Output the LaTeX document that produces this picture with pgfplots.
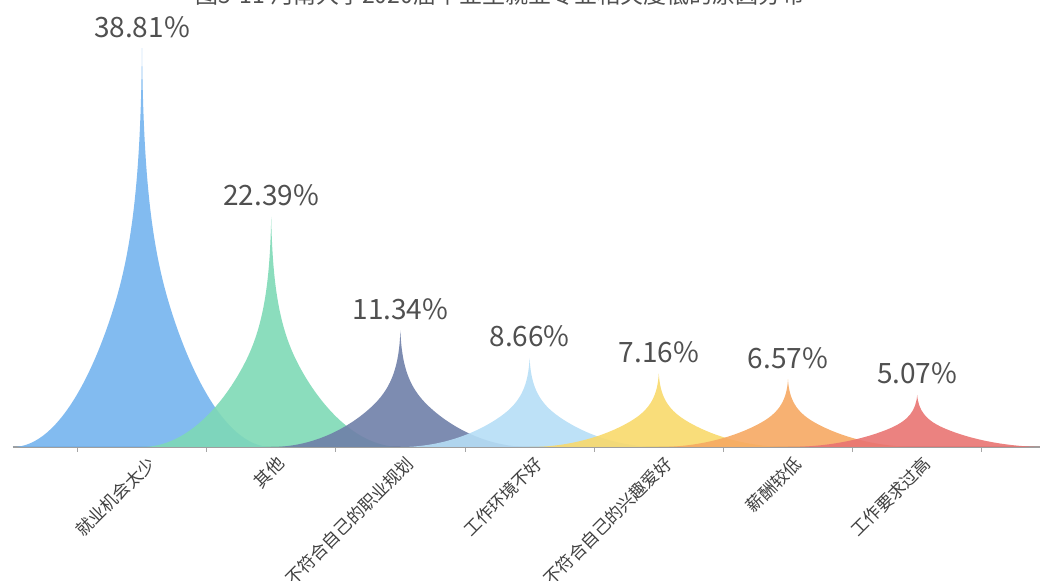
\documentclass[border=0pt]{standalone}
\usepackage{pgfplots}
\usepackage{pgfplotstable}
\pgfplotsset{compat=1.18}
\usepackage{fontspec}
\setmainfont{Noto Sans CJK SC}
\definecolor{c1}{HTML}{74B4EE}
\definecolor{c2}{HTML}{7ED9B6}
\definecolor{c3}{HTML}{6F7FA8}
\definecolor{c4}{HTML}{B6DEF6}
\definecolor{c5}{HTML}{F8D96C}
\definecolor{c6}{HTML}{F6A963}
\definecolor{c7}{HTML}{E97472}
\definecolor{lab}{HTML}{505050}
\newdimen\spikeunit \spikeunit=5.14pt
\newdimen\spikew \spikew=64.6pt
\newdimen\spikeH
\def\spikeval{0}
\pgfdeclareplotmark{spike}{%
  \spikeH=\spikeval\spikeunit
  \pgfpathmoveto{\pgfpointorigin}%
  \pgfpathcurveto{\pgfqpoint{0.01\spikew}{-0.3\spikeH}}{\pgfqpoint{0.065\spikew}{-0.48\spikeH}}{\pgfqpoint{0.2\spikew}{-0.63\spikeH}}%
  \pgfpathcurveto{\pgfqpoint{0.335\spikew}{-0.78\spikeH}}{\pgfqpoint{0.62\spikew}{-\spikeH}}{\pgfqpoint{\spikew}{-\spikeH}}%
  \pgfpathlineto{\pgfqpoint{-\spikew}{-\spikeH}}%
  \pgfpathcurveto{\pgfqpoint{-0.62\spikew}{-\spikeH}}{\pgfqpoint{-0.335\spikew}{-0.78\spikeH}}{\pgfqpoint{-0.2\spikew}{-0.63\spikeH}}%
  \pgfpathcurveto{\pgfqpoint{-0.065\spikew}{-0.48\spikeH}}{\pgfqpoint{-0.01\spikew}{-0.3\spikeH}}{\pgfpointorigin}%
  \pgfpathclose
  \pgfusepathqfill
}
\pgfplotstableread{
x y c
0 38.81 a
1 22.39 b
2 11.34 c
3 8.66 d
4 7.16 e
5 6.57 f
6 5.07 g
}\spikes
\begin{document}
\begin{tikzpicture}
\useasboundingbox (-6.4pt,-67pt) rectangle (513.6pt,223.5pt);
\begin{axis}[
  x=64.6pt, y=5.14pt,
  xmin=-1, xmax=6.95, ymin=0, ymax=42,
  clip=false,
  axis x line=bottom, axis y line=none,
  x axis line style={-, draw=gray!75, line width=0.9pt},
  xtick={0,...,6},
  xticklabels={就业机会太少,其他,不符合自己的职业规划,工作环境不好,不符合自己的兴趣爱好,薪酬较低,工作要求过高},
  major tick length=0pt,
  minor xtick={-0.5,0.5,...,6.5},
  minor tick length=2.5pt,
  tick align=outside,
  minor tick style={gray!70, line width=0.5pt},
  xticklabel style={rotate=45, anchor=north east, font=\fontsize{8.6}{9}\selectfont, text=lab!80!black, inner sep=1pt, yshift=-3pt},
  point meta min=0, point meta max=40,
]
\addplot[scatter, only marks, mark=spike, fill opacity=0.9,
  scatter src=explicit symbolic,
  scatter/classes={a={fill=c1,draw=none},b={fill=c2,draw=none},c={fill=c3,draw=none},d={fill=c4,draw=none},e={fill=c5,draw=none},f={fill=c6,draw=none},g={fill=c7,draw=none}},
  visualization depends on={rawy \as \spikeval}]
  table[x=x, y=y, meta=c]{\spikes};
\addplot[draw=none, mark=none,
  visualization depends on={rawy \as \labval},
  nodes near coords={\pgfmathprintnumber[fixed,fixed zerofill,precision=2,assume math mode=true]{\labval}\%},
  every node near coord/.style={anchor=base, yshift=5.5pt, inner sep=0pt, font=\fontsize{14}{16}\selectfont, text=lab}]
  table[x=x, y=y]{\spikes};
\end{axis}
\node[anchor=base, font=\fontsize{11.5}{13}\selectfont, text=lab, inner sep=0pt] at (243.6pt,221.5pt) {图5-11 河南大学2020届毕业生就业专业相关度低的原因分布};
\end{tikzpicture}
\end{document}
